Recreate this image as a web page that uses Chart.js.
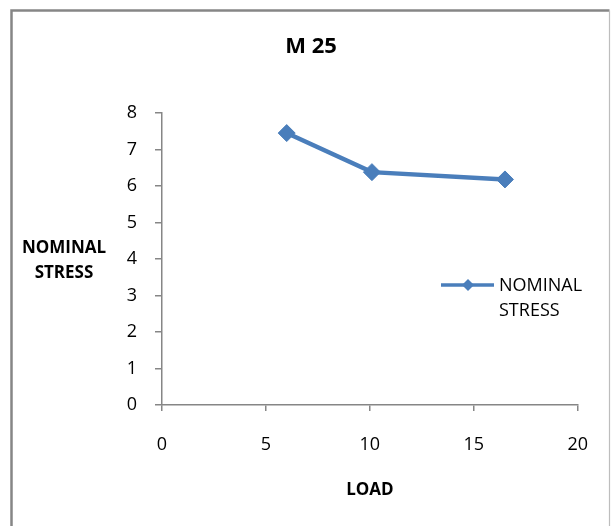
<!DOCTYPE html>
<html>
<head>
<meta charset="utf-8">
<script src="https://cdn.jsdelivr.net/npm/chart.js@4"></script>
<style>
  html, body { margin: 0; padding: 0; background: #fff; }
  #wrap { width: 611px; height: 526px; }
</style>
</head>
<body>
<div id="wrap"><canvas id="graficoM25" width="611" height="526"></canvas></div>
<script>
// Nominal stress vs load, M 25 mix
var cargas = [6, 10.1, 16.5];
var tensiones = [7.45, 6.38, 6.18];
var ticksX = [0, 5, 10, 15, 20];
var ticksY = [0, 1, 2, 3, 4, 5, 6, 7, 8];

var azul = '#4a7ebb';
var gris = '#868686';
var fuente = "'Open Sans', 'Liberation Sans', sans-serif";

var puntos = cargas.map(function(x, i) { return { x: x, y: tensiones[i] }; });

// marco, titulo del eje Y y leyenda dibujados a mano
var extras = {
    id: 'extras',
    beforeDraw: function(chart) {
        var ctx = chart.ctx;
        ctx.save();
        ctx.fillStyle = '#fff';
        ctx.fillRect(0, 0, chart.width, chart.height);
        ctx.strokeStyle = gris;
        ctx.lineWidth = 2.5;
        ctx.beginPath();
        ctx.moveTo(11.5, chart.height + 5);
        ctx.lineTo(11.5, 10.5);
        ctx.lineTo(609.5, 10.5);
        ctx.stroke();
        ctx.strokeStyle = '#bdbdbd';
        ctx.lineWidth = 1.2;
        ctx.beginPath();
        ctx.moveTo(609.5, 10.5);
        ctx.lineTo(609.5, chart.height + 5);
        ctx.stroke();
        ctx.restore();
    },
    afterDraw: function(chart) {
        var ctx = chart.ctx;
        ctx.save();
        // titulo del eje Y, horizontal en dos lineas
        ctx.fillStyle = '#000';
        ctx.font = 'bold 17px ' + fuente;
        ctx.textAlign = 'center';
        ctx.textBaseline = 'middle';
        ctx.fillText('NOMINAL', 64, 248);
        ctx.fillText('STRESS', 64, 273);

        // leyenda
        ctx.strokeStyle = azul;
        ctx.lineWidth = 3.5;
        ctx.beginPath();
        ctx.moveTo(441, 285);
        ctx.lineTo(494, 285);
        ctx.stroke();
        ctx.fillStyle = azul;
        ctx.beginPath();
        ctx.moveTo(468, 279);
        ctx.lineTo(474, 285);
        ctx.lineTo(468, 291);
        ctx.lineTo(462, 285);
        ctx.closePath();
        ctx.fill();
        ctx.fillStyle = '#000';
        ctx.font = '18px ' + fuente;
        ctx.textAlign = 'left';
        ctx.fillText('NOMINAL', 499, 286);
        ctx.fillText('STRESS', 499, 311);
        ctx.restore();
    }
};

var config = {
    type: 'line',
    data: {
        datasets: [
            {
                label: 'NOMINAL STRESS',
                data: puntos,
                borderColor: azul,
                backgroundColor: azul,
                borderWidth: 4.5,
                pointStyle: 'rectRot',
                pointRadius: 8.5,
                pointBorderWidth: 1,
                pointBackgroundColor: azul,
                pointBorderColor: azul,
                tension: 0
            }
        ]
    },
    options: {
        responsive: false,
        animation: false,
        layout: {
            padding: { left: 44, right: 33, top: 0, bottom: 0 }
        },
        plugins: {
            legend: { display: false },
            tooltip: { enabled: false },
            title: {
                display: true,
                text: 'M 25',
                color: '#000',
                font: { family: fuente, size: 22, weight: 'bold' },
                padding: { top: 34, bottom: 52.6 }
            }
        },
        scales: {
            x: {
                type: 'linear',
                min: 0,
                max: 20,
                afterBuildTicks: function(scale) {
                    scale.ticks = ticksX.map(function(v) { return { value: v }; });
                },
                afterFit: function(scale) { scale.height = 121; },
                grid: {
                    drawOnChartArea: false,
                    drawTicks: true,
                    tickLength: 6,
                    color: gris,
                    lineWidth: 1.5
                },
                border: { color: gris, width: 1.5 },
                ticks: {
                    color: '#000',
                    padding: 23,
                    maxRotation: 0,
                    font: { family: fuente, size: 18 }
                },
                title: {
                    display: true,
                    text: 'LOAD',
                    color: '#000',
                    font: { family: fuente, size: 17, weight: 'bold' },
                    padding: { top: 0, bottom: 26 }
                }
            },
            y: {
                min: 0,
                max: 8,
                afterBuildTicks: function(scale) {
                    scale.ticks = ticksY.map(function(v) { return { value: v }; });
                },
                afterFit: function(scale) { scale.width = 118; },
                grid: {
                    drawOnChartArea: false,
                    drawTicks: true,
                    tickLength: 7,
                    color: gris,
                    lineWidth: 1.5
                },
                border: { color: gris, width: 1.5 },
                ticks: {
                    color: '#000',
                    padding: 18,
                    font: { family: fuente, size: 18 }
                }
            }
        }
    },
    plugins: [extras]
};

var graficoM25 = new Chart(document.getElementById('graficoM25'), config);
</script>
</body>
</html>
